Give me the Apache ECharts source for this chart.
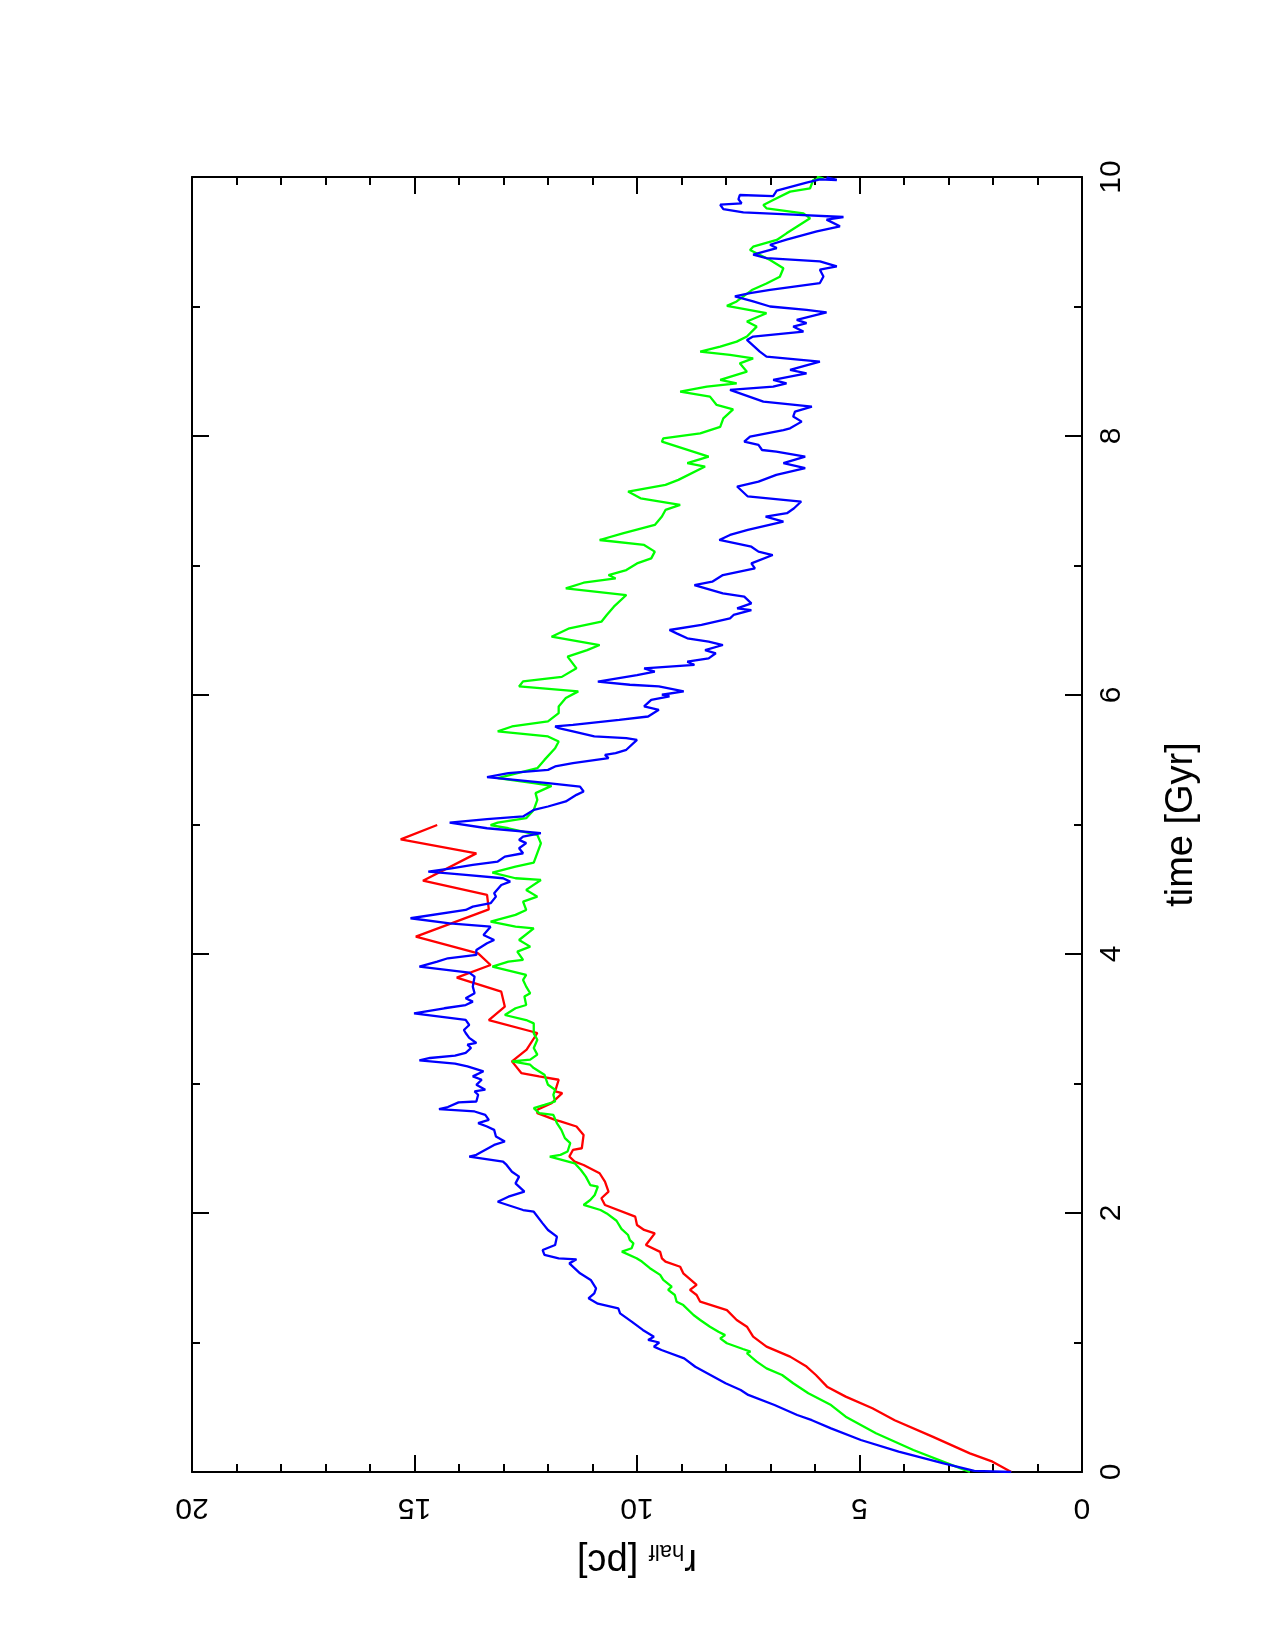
<!DOCTYPE html>
<html>
<head>
<meta charset="utf-8">
<title>r_half vs time</title>
<script src="https://cdn.jsdelivr.net/npm/echarts@6/dist/echarts.min.js"></script>
<style>
    html, body { margin: 0; padding: 0; background: #ffffff; }
    #chart { width: 1275px; height: 1650px; }
</style>
</head>
<body>
<div id="chart"></div>
<script>
// axis ranges (time runs up the page, r_half runs right to left)
var timeRange = [0, 10];
var radiusRange = [0, 20];

// [time (Gyr), r_half (pc)]
var redRows = [
    [0, 1.59], [0.08, 2.01], [0.144, 2.52], [0.273, 3.36], [0.40, 4.21], [0.492, 4.71], [0.582, 5.31],
    [0.659, 5.73], [0.749, 5.98], [0.814, 6.19], [0.891, 6.56], [0.968, 7.09], [1.045, 7.39], [1.122, 7.53],
    [1.174, 7.76], [1.25, 7.98], [1.315, 8.58], [1.367, 8.66], [1.406, 8.81], [1.445, 8.66], [1.534, 8.96],
    [1.585, 9.03], [1.624, 9.36], [1.65, 9.44], [1.70, 9.48], [1.753, 9.80], [1.843, 9.60], [1.869, 9.84],
    [1.907, 10.00], [1.972, 10.04], [2.062, 10.72], [2.114, 10.80], [2.165, 10.64], [2.242, 10.72],
    [2.307, 10.84], [2.371, 11.20], [2.397, 11.40], [2.436, 11.52], [2.487, 11.44], [2.5, 11.24],
    [2.603, 11.20], [2.668, 11.36], [2.707, 11.72], [2.719, 11.84], [2.771, 12.24], [2.797, 12.24],
    [2.848, 11.92], [2.925, 11.68], [2.939, 11.84], [3.029, 11.76], [3.055, 12.20], [3.081, 12.60],
    [3.171, 12.81], [3.261, 12.48], [3.39, 12.24], [3.4, 12.26], [3.49, 13.33], [3.593, 12.97],
    [3.709, 13.05], [3.817, 14.05], [3.915, 13.29], [4.005, 13.57], [4.134, 14.97], [4.345, 13.33],
    [4.456, 13.37], [4.566, 14.81], [4.777, 13.61], [4.885, 15.31], [4.996, 14.49]
];

var greenRows = [
    [0, 2.52], [0.067, 3.02], [0.17, 3.79], [0.299, 4.63], [0.427, 5.31], [0.517, 5.64], [0.608, 6.15],
    [0.685, 6.49], [0.749, 6.74], [0.80, 7.09], [0.852, 7.31], [0.917, 7.53], [0.93, 7.45], [0.95, 7.62],
    [0.994, 7.98], [1.032, 8.13], [1.057, 8.02], [1.083, 8.17], [1.122, 8.36], [1.174, 8.58], [1.212, 8.73],
    [1.289, 8.96], [1.315, 9.11], [1.367, 9.15], [1.406, 9.30], [1.432, 9.22], [1.483, 9.41], [1.522, 9.48],
    [1.574, 9.71], [1.625, 9.89], [1.651, 10.01], [1.702, 10.34], [1.728, 10.12], [1.766, 10.08],
    [1.791, 10.16], [1.83, 10.20], [1.877, 10.35], [1.94, 10.46], [1.997, 10.68], [2.023, 10.82],
    [2.062, 11.20], [2.10, 11.05], [2.139, 10.95], [2.203, 10.88], [2.216, 11.05], [2.281, 11.15],
    [2.332, 11.26], [2.384, 11.40], [2.397, 11.42], [2.436, 11.96], [2.449, 11.72], [2.475, 11.56],
    [2.539, 11.50], [2.578, 11.62], [2.642, 11.70], [2.694, 11.80], [2.758, 11.88], [2.771, 12.20],
    [2.81, 12.32], [2.835, 12.08], [2.861, 11.84], [2.913, 11.88], [2.952, 11.84], [2.99, 12.00],
    [3.068, 12.08], [3.119, 12.32], [3.145, 12.40], [3.171, 12.81], [3.184, 12.40], [3.223, 12.24],
    [3.274, 12.32], [3.338, 12.24], [3.387, 12.32], [3.413, 12.32], [3.464, 12.32], [3.49, 12.49],
    [3.529, 12.97], [3.581, 12.73], [3.606, 12.49], [3.671, 12.53], [3.697, 12.40], [3.748, 12.49],
    [3.8, 12.56], [3.838, 12.49], [3.902, 13.25], [3.941, 12.89], [3.954, 12.56], [4.018, 12.69],
    [4.057, 12.40], [4.108, 12.65], [4.198, 12.32], [4.211, 12.73], [4.25, 13.29], [4.302, 12.73],
    [4.34, 12.49], [4.405, 12.56], [4.443, 12.24], [4.495, 12.49], [4.572, 12.16], [4.585, 12.73],
    [4.629, 13.25], [4.675, 12.73], [4.706, 12.32], [4.855, 12.16], [4.92, 12.24], [4.971, 12.89],
    [4.996, 13.29], [5.015, 13.13], [5.049, 12.49], [5.113, 12.32], [5.19, 12.24], [5.242, 12.28],
    [5.298, 11.92], [5.319, 12.32], [5.358, 13.13], [5.435, 12.24], [5.499, 12.08], [5.589, 11.84],
    [5.641, 11.76], [5.68, 12.00], [5.719, 13.13], [5.757, 12.81], [5.796, 12.00], [5.86, 11.76],
    [5.912, 11.76], [5.976, 11.60], [6.028, 11.32], [6.066, 12.65], [6.105, 12.56], [6.14, 11.69],
    [6.206, 11.36], [6.296, 11.56], [6.347, 11.12], [6.386, 10.84], [6.45, 11.92], [6.515, 11.52],
    [6.566, 10.80], [6.618, 10.68], [6.682, 10.52], [6.772, 10.24], [6.823, 11.60], [6.867, 11.20],
    [6.9, 10.48], [6.926, 10.64], [6.965, 10.24], [7.016, 10.00], [7.055, 9.68], [7.107, 9.60],
    [7.159, 9.84], [7.197, 10.84], [7.248, 10.32], [7.313, 9.60], [7.378, 9.44], [7.429, 9.36],
    [7.468, 9.03], [7.519, 9.92], [7.571, 10.20], [7.623, 9.36], [7.661, 9.07], [7.764, 8.47],
    [7.79, 8.87], [7.841, 8.39], [7.957, 9.44], [7.982, 9.41], [8.02, 8.58], [8.07, 8.13], [8.136, 8.06],
    [8.206, 7.84], [8.24, 8.21], [8.304, 8.36], [8.343, 9.03], [8.381, 8.43], [8.407, 7.76],
    [8.433, 8.13], [8.497, 7.53], [8.561, 7.69], [8.6, 7.39], [8.626, 7.91], [8.652, 8.58], [8.69, 8.13],
    [8.729, 7.76], [8.768, 7.53], [8.845, 7.31], [8.884, 7.53], [8.948, 7.09], [9.005, 7.98],
    [9.039, 7.76], [9.127, 7.42], [9.178, 7.09], [9.23, 6.79], [9.295, 6.71], [9.359, 7.01],
    [9.436, 7.46], [9.462, 7.39], [9.514, 6.86], [9.565, 6.64], [9.681, 6.11], [9.719, 6.26],
    [9.758, 7.09], [9.784, 7.16], [9.823, 6.94], [9.887, 6.56], [9.913, 6.11], [9.977, 6.04],
    [9.99, 5.81], [10, 5.96]
];

var blueRows = [
    [0, 1.59], [0.008, 2.42], [0.067, 3.11], [0.157, 4.12], [0.247, 4.97], [0.337, 5.64], [0.40, 6.07],
    [0.44, 6.40], [0.517, 6.91], [0.595, 7.50], [0.633, 7.67], [0.685, 8.01], [0.749, 8.35], [0.813, 8.69],
    [0.878, 8.94], [0.942, 9.45], [0.968, 9.62], [1.0, 9.50], [1.02, 9.75], [1.045, 9.62], [1.097, 9.87],
    [1.161, 10.12], [1.225, 10.38], [1.264, 10.42], [1.30, 10.88], [1.341, 11.09], [1.38, 10.96],
    [1.418, 10.92], [1.483, 11.04], [1.534, 11.28], [1.611, 11.52], [1.642, 11.36], [1.65, 11.76],
    [1.676, 12.08], [1.714, 12.12], [1.753, 11.84], [1.817, 11.80], [1.869, 12.00], [1.92, 12.12],
    [2.01, 12.32], [2.023, 12.56], [2.087, 13.13], [2.126, 12.89], [2.165, 12.53], [2.229, 12.73],
    [2.281, 12.65], [2.319, 12.81], [2.371, 12.93], [2.397, 13.01], [2.436, 13.77], [2.449, 13.61],
    [2.526, 13.21], [2.552, 12.97], [2.591, 13.17], [2.642, 13.21], [2.668, 13.37], [2.694, 13.57],
    [2.719, 13.33], [2.758, 13.41], [2.784, 13.65], [2.802, 14.45], [2.818, 14.25], [2.854, 14.01],
    [2.861, 13.61], [2.913, 13.57], [2.939, 13.65], [2.952, 13.41], [2.99, 13.61], [3.029, 13.49],
    [3.055, 13.69], [3.094, 13.45], [3.132, 13.81], [3.153, 14.09], [3.179, 14.89], [3.197, 14.65],
    [3.215, 14.09], [3.236, 13.85], [3.274, 13.73], [3.3, 13.81], [3.313, 13.61], [3.352, 13.77],
    [3.39, 13.85], [3.413, 13.89], [3.452, 13.77], [3.491, 13.85], [3.542, 15.01], [3.581, 14.33],
    [3.606, 13.85], [3.632, 13.69], [3.658, 13.85], [3.697, 13.65], [3.748, 13.69], [3.825, 13.65],
    [3.856, 13.77], [3.902, 14.89], [3.941, 14.49], [3.967, 14.25], [3.993, 13.61], [4.031, 13.61],
    [4.083, 13.37], [4.108, 13.21], [4.147, 13.45], [4.211, 13.29], [4.237, 14.21], [4.276, 15.09],
    [4.34, 13.85], [4.366, 13.69], [4.392, 13.29], [4.443, 13.17], [4.469, 13.21], [4.533, 13.05],
    [4.559, 12.85], [4.585, 13.01], [4.611, 13.85], [4.636, 14.69], [4.662, 14.17], [4.688, 13.69],
    [4.714, 13.13], [4.752, 12.97], [4.778, 12.56], [4.817, 12.65], [4.856, 12.49], [4.881, 12.65],
    [4.907, 12.56], [4.933, 12.16], [4.971, 13.37], [5.015, 14.21], [5.041, 13.37], [5.062, 12.56],
    [5.113, 12.32], [5.139, 12.00], [5.178, 11.60], [5.229, 11.36], [5.255, 11.20], [5.293, 11.28],
    [5.319, 12.00], [5.366, 13.37], [5.396, 12.89], [5.422, 12.00], [5.448, 11.84], [5.474, 11.44],
    [5.512, 10.64], [5.538, 10.72], [5.551, 10.48], [5.577, 10.24], [5.654, 10.00], [5.667, 10.24],
    [5.68, 10.96], [5.719, 11.44], [5.744, 11.76], [5.757, 11.84], [5.77, 11.44], [5.808, 10.40],
    [5.834, 9.75], [5.886, 9.51], [5.912, 9.84], [5.963, 9.68], [5.989, 9.27], [6.002, 9.44],
    [6.028, 8.95], [6.066, 9.51], [6.079, 10.16], [6.103, 10.88], [6.154, 10.00], [6.18, 9.60],
    [6.206, 9.84], [6.232, 8.71], [6.257, 8.87], [6.283, 8.39], [6.322, 8.23], [6.347, 8.47],
    [6.386, 8.07], [6.412, 8.39], [6.438, 8.87], [6.476, 9.11], [6.502, 9.27], [6.541, 8.55],
    [6.592, 7.91], [6.618, 7.83], [6.656, 7.43], [6.669, 7.75], [6.708, 7.43], [6.759, 7.59],
    [6.785, 8.07], [6.849, 8.71], [6.875, 8.31], [6.926, 8.07], [6.978, 7.35], [7.016, 7.43],
    [7.081, 6.95], [7.107, 7.27], [7.145, 7.43], [7.197, 8.15], [7.236, 7.91], [7.275, 7.51],
    [7.339, 6.71], [7.378, 7.11], [7.404, 6.63], [7.442, 6.47], [7.494, 6.31], [7.533, 7.51],
    [7.61, 7.75], [7.648, 7.27], [7.7, 6.87], [7.752, 6.22], [7.79, 6.71], [7.841, 6.22], [7.88, 6.87],
    [7.892, 7.19], [7.931, 7.27], [7.957, 7.59], [7.995, 7.46], [8.046, 6.71], [8.059, 6.56],
    [8.111, 6.30], [8.15, 6.49], [8.188, 6.45], [8.227, 6.07], [8.266, 7.16], [8.356, 7.91],
    [8.381, 6.94], [8.407, 6.64], [8.433, 6.94], [8.484, 6.19], [8.51, 6.56], [8.574, 5.89],
    [8.613, 7.09], [8.652, 7.24], [8.742, 7.53], [8.768, 7.39], [8.806, 6.26], [8.845, 6.49],
    [8.871, 6.19], [8.897, 6.41], [8.954, 5.74], [8.974, 6.19], [9.0, 7.01], [9.039, 7.39],
    [9.078, 7.80], [9.104, 7.46], [9.129, 7.01], [9.181, 5.89], [9.232, 5.81], [9.284, 5.89],
    [9.31, 5.51], [9.348, 5.89], [9.374, 7.09], [9.4, 7.39], [9.451, 6.86], [9.477, 7.01],
    [9.516, 6.64], [9.58, 5.96], [9.619, 5.44], [9.671, 5.74], [9.691, 5.36], [9.709, 6.49],
    [9.727, 7.61], [9.752, 8.06], [9.786, 8.13], [9.797, 7.65], [9.828, 7.72], [9.861, 7.69],
    [9.853, 6.94], [9.894, 6.86], [9.956, 6.19], [9.982, 5.89], [9.977, 5.51], [9.997, 5.74]
];

var font = 'Liberation Sans';
var frameStyle = { color: '#000000', width: 2 };

// one axis per side and tick size, ticks drawn inside the frame like the original
function sideAxis(position, range, step, tickLen, showLine, inverse) {
    return {
        type: 'value',
        position: position,
        offset: 0,
        inverse: inverse,
        min: range[0],
        max: range[1],
        interval: step,
        axisLine: { show: showLine, onZero: false, lineStyle: frameStyle },
        axisTick: { show: true, inside: true, length: tickLen, lineStyle: frameStyle },
        axisLabel: { show: false },
        splitLine: { show: false }
    };
}

function curve(name, color, rows) {
    return {
        name: name,
        type: 'line',
        xAxisIndex: 0,
        yAxisIndex: 0,
        showSymbol: false,
        symbol: 'none',
        silent: true,
        lineStyle: { color: color, width: 2.3 },
        itemStyle: { color: color },
        data: rows.map(function (p) { return [p[1], p[0]]; })
    };
}

var radiusMain = sideAxis('bottom', radiusRange, 5, 17, true, true);
radiusMain.axisLabel = {
    show: true, rotate: 180, margin: 20, color: '#000000',
    fontFamily: font, fontSize: 30, lineHeight: 30
};
radiusMain.name = '{r|r}{s|half} {r|[pc]}';
radiusMain.nameLocation = 'middle';
radiusMain.nameRotate = 180;
radiusMain.nameGap = 68;
radiusMain.nameTextStyle = {
    color: '#000000', fontFamily: font, fontSize: 38, lineHeight: 40,
    rich: {
        r: { fontFamily: font, fontSize: 38, lineHeight: 40, color: '#000000' },
        s: { fontFamily: font, fontSize: 22, lineHeight: 2, verticalAlign: 'bottom', color: '#000000' }
    }
};

var timeMain = sideAxis('right', timeRange, 2, 17, true, false);
timeMain.axisLabel = {
    show: true, rotate: 90, margin: 15, color: '#000000',
    fontFamily: font, fontSize: 30, lineHeight: 30
};
timeMain.name = 'time [Gyr]';
timeMain.nameLocation = 'middle';
timeMain.nameRotate = 90;
timeMain.nameGap = 80;
timeMain.nameTextStyle = { color: '#000000', fontFamily: font, fontSize: 38, lineHeight: 40 };

var myChart = echarts.init(document.getElementById('chart'), null, { renderer: 'canvas' });

var option = {
    backgroundColor: '#ffffff',
    animation: false,
    grid: { left: 192, right: 193, top: 177, bottom: 178, containLabel: false, outerBoundsMode: 'none' },
    xAxis: [
        radiusMain,
        sideAxis('bottom', radiusRange, 1, 8, false, true),
        sideAxis('top', radiusRange, 5, 17, true, true),
        sideAxis('top', radiusRange, 1, 8, false, true)
    ],
    yAxis: [
        timeMain,
        sideAxis('right', timeRange, 1, 8, false, false),
        sideAxis('left', timeRange, 2, 17, true, false),
        sideAxis('left', timeRange, 1, 8, false, false)
    ],
    series: [
        curve('red', '#ff0000', redRows),
        curve('green', '#00ff00', greenRows),
        curve('blue', '#0000ff', blueRows)
    ]
};

myChart.setOption(option);
</script>
</body>
</html>
